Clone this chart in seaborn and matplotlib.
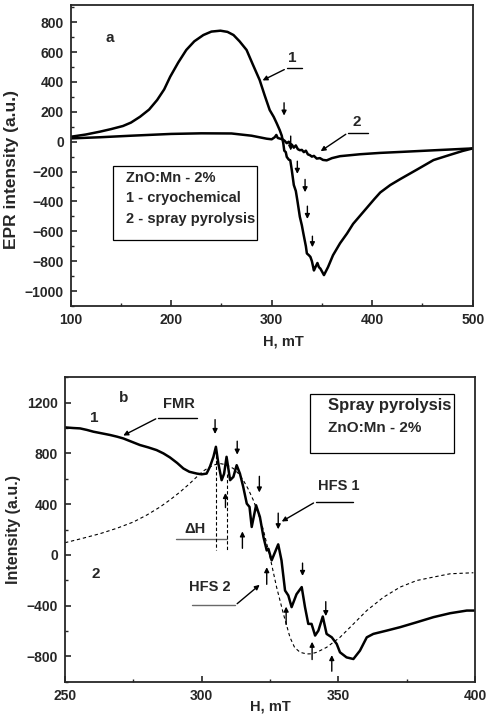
import matplotlib
matplotlib.use("Agg")
import matplotlib.pyplot as plt
import numpy as np
import pandas as pd
import seaborn as sns
from matplotlib.ticker import MultipleLocator

# ---------------- data ----------------
# panel a : curve 1 (cryochemical)
h_cryo = [100, 115, 129, 140, 152, 160, 169, 178, 186, 193, 199, 207, 215, 223, 232, 240,
          249, 256, 262, 268, 275, 281, 288, 293, 298, 302, 305, 308,
          310, 311.5, 312.5, 314, 315, 317, 318.5, 320, 322, 324, 325.5, 328, 330, 331.5,
          334, 335, 337, 338.5, 340, 342, 343.5, 345.5, 347, 348.5, 352, 356, 361, 368,
          375, 381, 388, 395, 402, 408, 418, 428, 445, 461, 477, 490, 500]
i_cryo = [33, 48, 67, 84, 105, 128, 167, 215, 279, 350, 435, 530, 614, 672, 714, 737,
          743, 735, 714, 672, 614, 520, 413, 310, 212, 166, 123, 77,
          40, -10, -60, -70, -102, -120, -125, -191, -290, -330, -392, -503, -560, -614,
          -700, -748, -760, -771, -800, -862, -840, -812, -840, -850, -893, -840, -760, -680,
          -614, -550, -495, -440, -385, -340, -290, -250, -185, -123, -89, -62, -45]

# panel a : curve 2 (spray pyrolysis)
h_spray = [100, 130, 160, 200, 230, 260, 280, 295, 300, 303, 304.6, 306, 308, 311, 313,
           315, 317, 318, 320, 322, 324, 326, 328, 330, 332, 334, 336, 338, 340, 342,
           344.8, 348, 351, 354.7, 360, 368, 388, 408, 430, 460, 500]
i_spray = [22, 30, 40, 52, 56, 55, 40, 20, 16, 30, 45, 25, 21, 15, 5,
           -10, 0, -12, -20, -40, -25, -50, -57, -55, -70, -60, -85, -90, -100, -95,
           -113, -110, -122, -125, -110, -97, -84, -75, -68, -58, -45]

# panel b : measured spectrum (1)
h_meas = [250, 253, 255.5, 258, 260.4, 263, 266.5, 269, 271.3, 274, 277.4, 280.5, 283.5,
          286, 288.4, 291, 293.3, 295.5, 298.2, 300, 301.8, 303,
          304.3, 305.2, 306.1, 307.3, 308.2, 309.1, 310.4, 311.6, 312.8, 314, 315.2, 316.5,
          317.5, 318.3, 319.9, 321.3, 322.6, 323.8, 324.4, 325.6, 328, 329.2, 330.5, 331.7,
          332.9, 334.7, 336.6, 337.8, 339, 340.2, 341.5, 342.7, 344.3, 345.7, 347.6, 349.4,
          350.6, 353, 355.5, 357.9, 360.4, 362.8, 367.7, 372.6, 378.7, 384.8, 390.9, 397, 400]
i_meas = [1005, 1000, 997, 985, 971, 960, 945, 932, 918, 895, 866, 847, 826,
          800, 768, 725, 681, 655, 641, 635, 641, 694,
          773, 852, 720, 589, 640, 773, 589, 615, 707, 640, 536, 404,
          378, 220, 391, 299, 141, 35, 48, -43, 83, -43, -281, -320,
          -412, -310, -254, -412, -544, -544, -636, -597, -486, -623, -650, -702,
          -768, -808, -821, -755, -650, -623, -597, -570, -531, -491, -460, -439, -439]

# panel b : fitted FMR line (2)
h_fit = [250, 256, 262.8, 269, 275, 280, 284.8, 288.5, 292.1, 295.5, 298.2, 300.5, 303,
         305, 306.7, 309, 311.6, 313.5, 315.2, 317, 318.9, 320.8, 322.6,
         325, 327.4, 329.9, 332.3, 334, 336, 338.4, 340, 342.1, 345.7, 350.6, 355.5, 360.4,
         366.5, 372.6, 378.7, 384.8, 390.9, 399.4]
i_fit = [96, 128, 167, 210, 259, 315, 378, 435, 496, 560, 615, 660, 694,
         712, 720, 710, 681, 640, 589, 520, 431, 320, 194,
         -17, -254, -465, -650, -730, -768, -781, -780, -768, -729, -650, -545, -439,
         -334, -254, -202, -175, -149, -141]

df_cryo = pd.DataFrame({"H": h_cryo, "I": i_cryo})
df_spray = pd.DataFrame({"H": h_spray, "I": i_spray})
df_meas = pd.DataFrame({"H": h_meas, "I": i_meas})
df_fit = pd.DataFrame({"H": h_fit, "I": i_fit})

# ---------------- style ----------------
sns.set_style("ticks")
plt.rcParams["font.family"] = ["Liberation Sans", "DejaVu Sans"]
plt.rcParams["font.weight"] = "bold"
plt.rcParams["axes.labelweight"] = "bold"
plt.rcParams["axes.linewidth"] = 1.3
plt.rcParams["xtick.direction"] = "in"
plt.rcParams["ytick.direction"] = "in"

fig = plt.figure(figsize=(4.9, 7.14), dpi=100)
ax1 = fig.add_axes([0.1443, 0.5714, 0.8204, 0.4216])
ax2 = fig.add_axes([0.1327, 0.0452, 0.8367, 0.4264])

pijl = dict(arrowstyle="-|>", color="black", lw=1.0, mutation_scale=7)
FS = 10.5


def opmaak(ax):
    ax.tick_params(which="major", length=4, width=1.2, labelsize=10, pad=5)
    ax.tick_params(which="minor", length=2.5, width=1.0)
    for lab in ax.get_xticklabels() + ax.get_yticklabels():
        lab.set_fontweight("bold")
    for s in ax.spines.values():
        s.set_visible(True)
        s.set_linewidth(1.3)


################## Painel a ##################
sns.lineplot(data=df_cryo, x="H", y="I", ax=ax1, color="black", lw=1.8, estimator=None, sort=False)
sns.lineplot(data=df_spray, x="H", y="I", ax=ax1, color="black", lw=1.8, estimator=None, sort=False)
ax1.set_xlim(100, 500)
ax1.set_ylim(-1100, 915)
ax1.xaxis.set_major_locator(MultipleLocator(100))
ax1.xaxis.set_minor_locator(MultipleLocator(50))
ax1.set_yticks([800, 600, 400, 200, 0, -200, -400, -600, -800, -1000])
ax1.yaxis.set_minor_locator(MultipleLocator(100))
ax1.set_xlabel("H, mT", fontsize=FS)
ax1.set_ylabel("EPR intensity (a.u.)", fontsize=12.5)
ax1.xaxis.set_label_coords(0.528, -0.095)
ax1.yaxis.set_label_coords(-0.128, 0.455)
opmaak(ax1)

ax1.text(139, 696, "a", fontsize=11, fontweight="bold", ha="center", va="center")
ax1.text(320, 558, "1", fontsize=11, fontweight="bold", ha="center", va="center")
ax1.plot([315, 330], [491, 491], color="black", lw=1.0)
ax1.annotate("", xy=(288.4, 402), xytext=(315, 491), arrowprops=pijl)
ax1.text(384.6, 134, "2", fontsize=11, fontweight="bold", ha="center", va="center")
ax1.plot([376, 396], [60, 60], color="black", lw=1.0)
ax1.annotate("", xy=(346.4, -74), xytext=(376, 60), arrowprops=pijl)

for xa, y0, y1 in [(312.3, 279, 156), (318.9, 56, -78), (325.5, -112, -234),
                   (333.2, -234, -357), (335.5, -413, -536), (340.5, -614, -725)]:
    ax1.annotate("", xy=(xa, y1), xytext=(xa, y0), arrowprops=pijl)

ax1.add_patch(plt.Rectangle((142.4, -655), 142.6, 490, fill=False, lw=0.9, color="black"))
ax1.text(155.5, -244, "ZnO:Mn - 2%", fontsize=FS, fontweight="bold", va="center")
ax1.text(155.5, -380, "1 - cryochemical", fontsize=FS, fontweight="bold", va="center")
ax1.text(155.5, -520, "2 - spray pyrolysis", fontsize=FS, fontweight="bold", va="center")

################## Painel b ##################
sns.lineplot(data=df_meas, x="H", y="I", ax=ax2, color="black", lw=1.8, estimator=None, sort=False)
sns.lineplot(data=df_fit, x="H", y="I", ax=ax2, color="black", lw=0.8, ls=(0, (3, 2.5)),
             estimator=None, sort=False)
ax2.set_xlim(250, 400)
ax2.set_ylim(-1000, 1400)
ax2.xaxis.set_major_locator(MultipleLocator(50))
ax2.xaxis.set_minor_locator(MultipleLocator(25))
ax2.set_yticks([-800, -400, 0, 400, 800, 1200])
ax2.yaxis.set_minor_locator(MultipleLocator(200))
ax2.set_xlabel("H, mT", fontsize=FS)
ax2.set_ylabel("Intensity (a.u.)", fontsize=11.5)
ax2.xaxis.set_label_coords(0.5, -0.058)
ax2.yaxis.set_label_coords(-0.108, 0.5)
opmaak(ax2)

ax2.text(271.3, 1235, "b", fontsize=11, fontweight="bold", ha="center", va="center")
ax2.text(260.7, 1082, "1", fontsize=11, fontweight="bold", ha="center", va="center")
ax2.text(261.3, -154, "2", fontsize=11, fontweight="bold", ha="center", va="center")

ax2.text(291.5, 1190, "FMR", fontsize=FS, fontweight="bold", ha="center", va="center")
ax2.plot([284.1, 298.4], [1082, 1082], color="black", lw=1.0)
ax2.annotate("", xy=(270.4, 931), xytext=(284.1, 1082), arrowprops=pijl)

ax2.text(297.6, 207, "\u0394H", fontsize=FS, fontweight="bold", ha="center", va="center")
ax2.plot([290.5, 309.1], [122, 122], color="dimgray", lw=1.0)
ax2.plot([305.1, 305.1], [786, 41], color="black", lw=0.8, ls=(0, (3, 2)))
ax2.plot([309.1, 309.1], [641, 41], color="black", lw=0.8, ls=(0, (3, 2)))

ax2.text(350, 544, "HFS 1", fontsize=FS, fontweight="bold", ha="center", va="center")
ax2.plot([341.8, 355.5], [420, 420], color="black", lw=1.0)
ax2.annotate("", xy=(328.4, 252), xytext=(341.8, 420), arrowprops=pijl)

ax2.text(302.8, -255, "HFS 2", fontsize=FS, fontweight="bold", ha="center", va="center")
ax2.plot([296.3, 312.2], [-399, -399], color="dimgray", lw=1.0)
ax2.annotate("", xy=(322, -222), xytext=(312.2, -399), arrowprops=pijl)

# pijlen naar beneden
for xa, y0, y1 in [(304.9, 1088, 931), (313, 918, 768), (321.1, 641, 470),
                   (328, 351, 180), (336.9, -43, -188), (345.4, -347, -505)]:
    ax2.annotate("", xy=(xa, y1), xytext=(xa, y0), arrowprops=pijl)
# pijlen naar boven
for xa, y0, y1 in [(308.7, 351, 510), (314.9, 30, 207), (323.8, -254, -75),
                   (330.9, -570, -386), (340.4, -847, -663), (347.6, -939, -768)]:
    ax2.annotate("", xy=(xa, y1), xytext=(xa, y0), arrowprops=pijl)

ax2.add_patch(plt.Rectangle((339.6, 800), 52.7, 472, fill=False, lw=0.9, color="black"))
ax2.text(346.3, 1177, "Spray pyrolysis", fontsize=12, fontweight="bold", va="center")
ax2.text(346.3, 997, "ZnO:Mn - 2%", fontsize=11, fontweight="bold", va="center")

fig.savefig("out.png", dpi=100)
plt.close(fig)
